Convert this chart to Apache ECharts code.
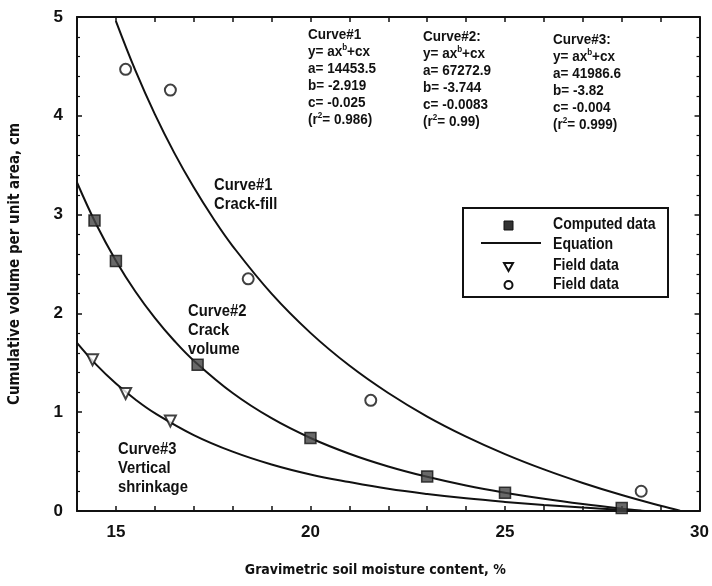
<!DOCTYPE html>
<html>
<head>
<meta charset="utf-8">
<title>Cumulative volume vs. soil moisture</title>
<script src="https://cdn.jsdelivr.net/npm/echarts@6/dist/echarts.min.js"></script>
<style>
  html, body { margin: 0; padding: 0; background: #fff; }
  #chart { width: 712px; height: 586px; }
</style>
</head>
<body>
<div id="chart"></div>
<script>
// Fitted curves y = a*x^b + c*x, sampled as [moisture %, volume cm]
const curve1 = [[15, 4.958], [15.5, 4.459], [16, 4.017], [16.5, 3.625], [17, 3.276], [17.5, 2.963],
  [18, 2.682], [19, 2.200], [20, 1.803], [21, 1.472], [22, 1.194], [23, 0.956], [24, 0.753],
  [25, 0.576], [26, 0.421], [27, 0.284], [28, 0.162], [29, 0.053], [29.5, 0.003]];
const curve2 = [[14, 3.325], [14.5, 2.897], [15, 2.534], [15.5, 2.222], [16, 1.955], [16.5, 1.723],
  [17, 1.522], [18, 1.194], [19, 0.939], [20, 0.739], [21, 0.580], [22, 0.451], [23, 0.346],
  [24, 0.258], [25, 0.185], [26, 0.123], [27, 0.070], [28, 0.024], [28.6, 0.0]];
const curve3 = [[14, 1.702], [14.5, 1.479], [15, 1.290], [15.5, 1.129], [16, 0.991], [17, 0.769],
  [18, 0.601], [19, 0.471], [20, 0.370], [21, 0.293], [22, 0.225], [23, 0.172], [24, 0.128],
  [25, 0.092], [26, 0.061], [27, 0.035], [28, 0.012], [28.5, 0.002]];

// Measured / computed points
const computedData = [[14.45, 2.94], [15.0, 2.53], [17.1, 1.48], [20.0, 0.74], [23.0, 0.35], [25.0, 0.185], [28.0, 0.03]];
const fieldVertical = [[14.4, 1.53], [15.25, 1.19], [16.4, 0.91]];
const fieldCrackFill = [[15.25, 4.47], [16.4, 4.26], [18.4, 2.35], [21.55, 1.12], [28.5, 0.2]];

// Equation coefficients printed above the curves
const curveTitles = ['Curve#1', 'Curve#2:', 'Curve#3:'];
const coefA = ['14453.5', '67272.9', '41986.6'];
const coefB = ['-2.919', '-3.744', '-3.82'];
const coefC = ['-0.025', '-0.0083', '-0.004'];
const rSquared = ['0.986', '0.99', '0.999'];

// Curve captions
const curveCaptions = [
  ['Curve#1', 'Crack-fill'],
  ['Curve#2', 'Crack', 'volume'],
  ['Curve#3', 'Vertical', 'shrinkage']
];

// Legend entries
const legendLabels = ['Computed data', 'Equation', 'Field data', 'Field data'];

const SANS = "'Liberation Sans', Arial, sans-serif";
const NARROW = "'DejaVu Sans Condensed', 'Liberation Sans', sans-serif";
const INK = '#111';

const chart = echarts.init(document.getElementById('chart'), null, { renderer: 'canvas' });

const lineSeries = (data) => ({
  type: 'line', data, smooth: 0.4, showSymbol: false, symbol: 'none',
  lineStyle: { color: INK, width: 2 }, z: 2, silent: true
});

// Narrowed bold text, anchored at its top-left corner
const narrowText = (x, y, text, size, squeeze, extra) => ({
  type: 'text', x, y, scaleX: squeeze, scaleY: 1, z: 11,
  style: Object.assign({
    text, fill: INK, font: 'bold ' + size + 'px ' + SANS, align: 'left', verticalAlign: 'top'
  }, extra || {})
});

const graphics = [];

// Equation blocks
const blockLeft = [308, 423, 553];
const blockTop = [26, 28, 31];
const eqRich = {
  t: { fontFamily: SANS, fontSize: 15, fontWeight: 'bold', fill: INK, lineHeight: 17 },
  s: { fontFamily: SANS, fontSize: 9, fontWeight: 'bold', fill: INK, verticalAlign: 'top', lineHeight: 17 }
};
curveTitles.forEach((title, i) => {
  const text = [
    '{t|' + title + '}',
    '{t|y= ax}{s|b}{t|+cx}',
    '{t|a= ' + coefA[i] + '}',
    '{t|b= ' + coefB[i] + '}',
    '{t|c= ' + coefC[i] + '}',
    '{t|(r}{s|2}{t|= ' + rSquared[i] + ')}'
  ].join('\n');
  graphics.push(narrowText(blockLeft[i], blockTop[i], text, 15, 0.9, { rich: eqRich }));
});

// Curve captions
const captionPos = [[214, 176], [188, 302], [118, 440]];
curveCaptions.forEach((lines, i) => {
  graphics.push(narrowText(captionPos[i][0], captionPos[i][1], lines.join('\n'), 17, 0.87, { lineHeight: 19 }));
});

// Legend box
const legendRowY = [226, 246, 267, 286];
graphics.push({
  type: 'rect', x: 463, y: 208, z: 10,
  shape: { width: 205, height: 89 },
  style: { fill: '#fff', stroke: INK, lineWidth: 2 }
});
graphics.push({
  type: 'rect', x: 504, y: legendRowY[0] - 5, z: 11,
  shape: { width: 9, height: 9 }, style: { fill: '#333', stroke: INK, lineWidth: 1 }
});
graphics.push({
  type: 'line', z: 11,
  shape: { x1: 481, y1: 243, x2: 541, y2: 243 }, style: { stroke: INK, lineWidth: 2 }
});
graphics.push({
  type: 'polygon', z: 11,
  shape: { points: [[504, legendRowY[2] - 4], [513, legendRowY[2] - 4], [508.5, legendRowY[2] + 4]] },
  style: { fill: '#fff', stroke: INK, lineWidth: 2 }
});
graphics.push({
  type: 'circle', z: 11,
  shape: { cx: 508.5, cy: legendRowY[3] - 1, r: 4 }, style: { fill: '#fff', stroke: INK, lineWidth: 2 }
});
legendLabels.forEach((label, i) => {
  graphics.push(narrowText(553, legendRowY[i] - 9, label, 16, 0.88));
});

const baseAxisLine = { show: true, onZero: false, lineStyle: { color: INK, width: 2 } };
const tickStyle = { show: true, inside: true, length: 5, lineStyle: { color: INK, width: 1.5 } };
const minorTickStyle = { show: true, splitNumber: 5, length: 3, lineStyle: { color: INK, width: 1.2 } };

chart.setOption({
  animation: false,
  backgroundColor: '#fff',
  grid: { left: 76, right: 12, top: 17, bottom: 75, containLabel: false },
  xAxis: [
    {
      type: 'value', min: 14, max: 30, interval: 1, position: 'bottom',
      name: 'Gravimetric soil moisture content, %', nameLocation: 'middle', nameGap: 52,
      nameTextStyle: { fontFamily: NARROW, fontSize: 14, fontWeight: 'bold', color: INK, padding: [0, 26, 0, 0] },
      axisLine: baseAxisLine, axisTick: tickStyle,
      axisLabel: {
        margin: 13, fontFamily: SANS, fontSize: 17, fontWeight: 'bold', color: INK,
        formatter: (v) => (v % 5 === 0 ? String(v) : '')
      },
      splitLine: { show: false }
    },
    {
      type: 'value', min: 14, max: 30, interval: 1, position: 'top',
      axisLine: baseAxisLine, axisTick: tickStyle, axisLabel: { show: false }, splitLine: { show: false }
    }
  ],
  yAxis: [
    {
      type: 'value', min: 0, max: 5, interval: 1, position: 'left',
      name: 'Cumulative volume per unit area, cm', nameLocation: 'middle', nameGap: 54,
      nameTextStyle: { fontFamily: NARROW, fontSize: 15, fontWeight: 'bold', color: INK },
      axisLine: baseAxisLine, axisTick: tickStyle, minorTick: minorTickStyle,
      axisLabel: { margin: 14, fontFamily: SANS, fontSize: 17, fontWeight: 'bold', color: INK },
      splitLine: { show: false }
    },
    {
      type: 'value', min: 0, max: 5, interval: 1, position: 'right',
      axisLine: baseAxisLine, axisTick: tickStyle, minorTick: minorTickStyle,
      axisLabel: { show: false }, splitLine: { show: false }
    }
  ],
  series: [
    lineSeries(curve1),
    lineSeries(curve2),
    lineSeries(curve3),
    {
      name: 'Computed data', type: 'scatter', data: computedData, symbol: 'rect', symbolSize: 11,
      itemStyle: { color: '#444', borderColor: INK, borderWidth: 1.5 }, z: 4
    },
    {
      name: 'Field data', type: 'scatter', data: fieldVertical, symbol: 'triangle', symbolRotate: 180, symbolSize: 11,
      itemStyle: { color: '#fff', borderColor: INK, borderWidth: 2 }, z: 4
    },
    {
      name: 'Field data ', type: 'scatter', data: fieldCrackFill, symbol: 'circle', symbolSize: 11,
      itemStyle: { color: '#fff', borderColor: INK, borderWidth: 2 }, z: 4
    }
  ],
  graphic: graphics
});
</script>
</body>
</html>
